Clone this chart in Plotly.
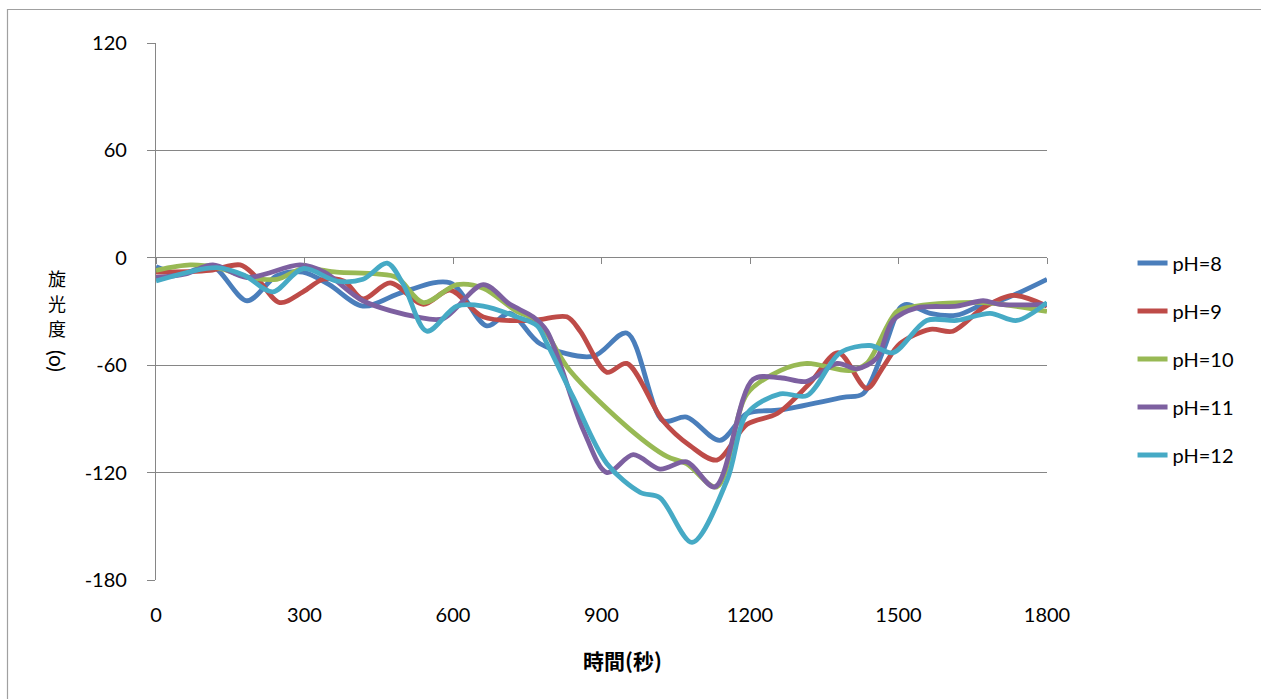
import plotly.graph_objects as go

# ---- data (time in seconds, optical rotation in degrees) ----
t_ph8 = [0, 50, 113, 184, 244, 297, 350, 418, 500, 594, 668, 715, 776, 883, 951, 1024, 1072, 1139, 1194, 1261, 1388, 1428, 1469, 1503, 1517, 1564, 1618, 1671, 1705, 1800]
v_ph8 = [-5, -9, -4.5, -24, -10, -8, -15, -27, -19, -14, -38, -31, -48, -55, -42, -91, -89, -102, -87, -85, -78, -76, -52, -28, -26, -31, -32, -26, -24, -12]

t_ph9 = [0, 109, 170, 200, 250, 297, 338, 380, 418, 473, 540, 594, 661, 762, 830, 857, 911, 951, 1024, 1079, 1133, 1194, 1255, 1321, 1378, 1436, 1469, 1503, 1564, 1610, 1671, 1731, 1800]
v_ph9 = [-8, -7, -4, -10, -25, -19, -12, -13, -23, -14, -26, -18, -33, -35, -33, -41, -64, -59, -91, -105, -113, -93, -87, -70, -53, -73, -61, -48, -40, -41, -28, -21, -27]

t_ph10 = [0, 69, 123, 190, 244, 297, 365, 446, 487, 540, 608, 661, 729, 770, 836, 958, 1032, 1072, 1133, 1194, 1261, 1315, 1402, 1436, 1497, 1537, 1671, 1800]
v_ph10 = [-7, -4, -5.5, -11, -12, -6, -8, -9, -11, -25, -15, -17, -30, -35, -63, -96, -111, -115, -128, -76, -63, -59, -63, -59, -30, -27, -25, -30]

t_ph11 = [0, 60, 115, 184, 291, 340, 418, 527, 580, 661, 715, 762, 790, 863, 911, 964, 1018, 1072, 1129, 1206, 1261, 1315, 1376, 1416, 1456, 1489, 1537, 1618, 1671, 1705, 1800]
v_ph11 = [-11, -9, -4, -11, -4, -8, -24, -33, -34, -15, -26, -33, -41, -96, -120, -110, -118, -114, -128, -68, -67, -69, -59, -62, -56, -35, -28, -27, -24, -26, -26]

t_ph12 = [0, 123, 180, 236, 297, 365, 418, 467, 500, 547, 608, 661, 729, 770, 790, 843, 911, 978, 1018, 1083, 1154, 1194, 1261, 1315, 1382, 1442, 1489, 1557, 1618, 1685, 1739, 1800]
v_ph12 = [-13, -5.5, -10, -19, -6, -13, -12, -3, -15, -41, -27, -27, -33, -38, -48, -78, -115, -131, -134, -159, -124, -87, -76, -77, -53, -49, -53, -35, -35, -31, -35, -25]

series_names = ["pH=8", "pH=9", "pH=10", "pH=11", "pH=12"]
series_t = [t_ph8, t_ph9, t_ph10, t_ph11, t_ph12]
series_v = [v_ph8, v_ph9, v_ph10, v_ph11, v_ph12]
colors = ["#4A7EBB", "#BE4B48", "#98B954", "#7D60A0", "#46AAC5"]

x_ticks = [0, 300, 600, 900, 1200, 1500, 1800]
y_ticks = [-180, -120, -60, 0, 60, 120]

x_title = "時間(秒)"
y_title_chars = ["旋", "光", "度"]
y_title_tail = "(o)"

W, H = 1261, 699
L, R, T, B = 156, 1047, 43, 580  # plot area pixels

def px_x(p):
    return (p - L) / (R - L)

def px_y(p):
    return (B - p) / (B - T)

GRID = "#868686"
FONT = "Lato, 'Noto Sans', sans-serif"
CJK = "'Noto Sans CJK TC', 'Noto Sans CJK JP', sans-serif"

fig = go.Figure()
for i, (name, tt, vv, c) in enumerate(zip(series_names, series_t, series_v, colors)):
    fig.add_trace(go.Scatter(
        x=tt, y=vv, name=name, mode="lines",
        line=dict(color=c, width=4.8, shape="spline", smoothing=0.9),
        legendgroup=name,
    ))

# invisible trace to carry the tick axis drawn on the y=0 line
fig.add_trace(go.Scatter(x=t_ph8, y=v_ph8, xaxis="x2", mode="lines",
                         opacity=0, showlegend=False, hoverinfo="skip",
                         line=dict(width=1)))

title_annots = [
    dict(text="<b>" + x_title + "</b>", xref="paper", yref="paper", x=px_x(622), y=px_y(660),
         showarrow=False, font=dict(family=CJK, size=21, color="#000000"),
         xanchor="center", yanchor="middle"),
]
for k, ch in enumerate(y_title_chars):
    title_annots.append(dict(
        text=ch, xref="paper", yref="paper", x=px_x(57), y=px_y(278 + 25 * k),
        showarrow=False, borderpad=0, font=dict(family=CJK, size=18, color="#000000"),
        xanchor="center", yanchor="middle"))
title_annots.append(dict(
    text=y_title_tail, xref="paper", yref="paper", x=px_x(57), y=px_y(361),
    showarrow=False, textangle=90, borderpad=0,
    font=dict(family=FONT, size=21, color="#000000"),
    xanchor="center", yanchor="middle"))

fig.update_layout(
    width=W, height=H,
    margin=dict(l=L, r=W - R, t=T, b=H - B, pad=0),
    paper_bgcolor="white", plot_bgcolor="white",
    font=dict(family=FONT, size=20, color="#000000"),
    showlegend=True,
    legend=dict(
        x=1.096, y=px_y(359), xanchor="left", yanchor="middle",
        font=dict(family=FONT, size=20, color="#000000"),
        traceorder="grouped", tracegroupgap=19,
        bgcolor="rgba(0,0,0,0)",
    ),
    xaxis=dict(
        range=[0, 1800], tickvals=x_ticks, ticktext=[str(v) for v in x_ticks],
        showgrid=False, zeroline=False, showline=False, ticks="",
        ticklabelstandoff=21,
        tickfont=dict(family=FONT, size=20),
        fixedrange=True,
    ),
    xaxis2=dict(
        range=[0, 1800], overlaying="x", anchor="free", position=px_y(257.3),
        tickvals=x_ticks, showticklabels=False, ticks="outside", ticklen=6,
        tickcolor=GRID, tickwidth=1.2, showgrid=False, zeroline=False, showline=False,
        side="bottom",
    ),
    yaxis=dict(
        range=[-180, 120], tickvals=y_ticks, ticktext=[str(v) for v in y_ticks],
        showgrid=True, gridcolor=GRID, gridwidth=1.2,
        zeroline=False, showline=True, linecolor=GRID, linewidth=1.2,
        ticks="outside", ticklen=8, tickcolor=GRID, tickwidth=1.2,
        ticklabelstandoff=16,
        tickfont=dict(family=FONT, size=20),
        fixedrange=True,
    ),
    shapes=[
        dict(type="rect", xref="paper", yref="paper",
             x0=px_x(7.5), x1=px_x(1275), y0=px_y(715), y1=px_y(9.5),
             line=dict(color="#A0A0A0", width=1.2), fillcolor="rgba(0,0,0,0)",
             layer="below"),
    ],
    annotations=title_annots,
)

fig.write_html("out.html")
